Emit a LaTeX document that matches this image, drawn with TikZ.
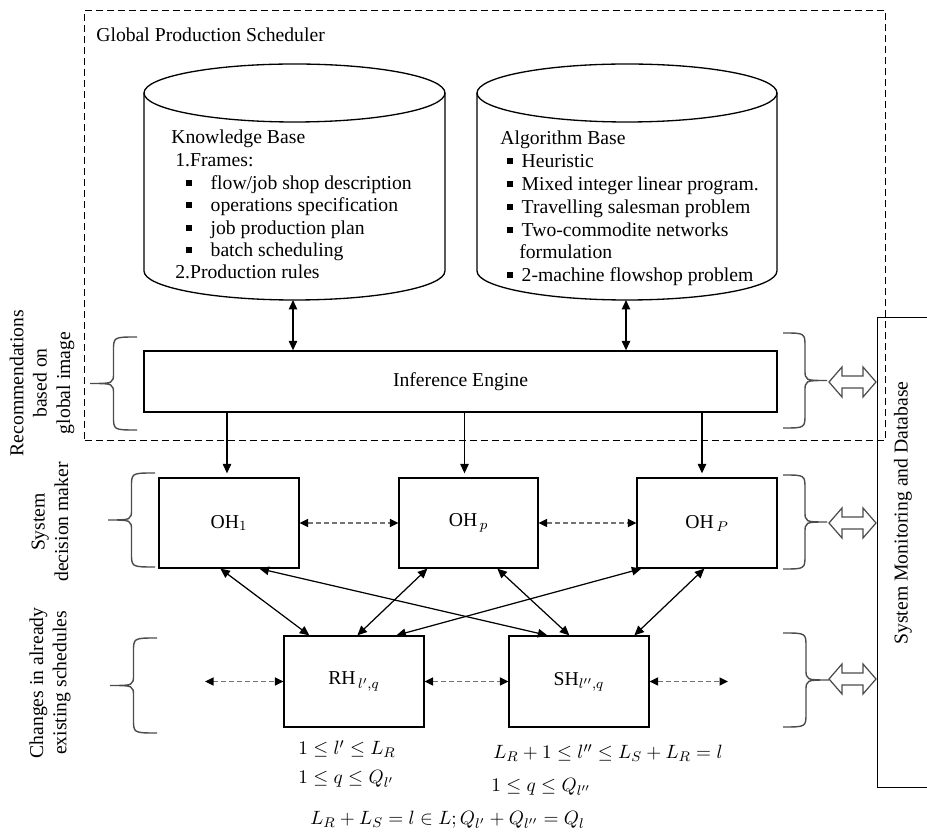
\documentclass[tikz,border=0pt]{standalone}
\usepackage{fontspec}
\setmainfont{Liberation Serif}
\usetikzlibrary{arrows.meta,calc}
\newdimen\pxu \pxu=0.02cm
\newcommand\sqb{\rule[0.22em]{0.27em}{0.27em}}
% curly brace: tip x, end x, top y, bottom y
\newcommand\curlybrace[4]{%
  \pgfmathsetmacro\bsp{(#1+#2)/2}%
  \pgfmathsetmacro\bmid{(#3+#4)/2}%
  \draw[curly] (#2,#3) .. controls (\bsp,#3) .. (\bsp,#3-14)
    -- (\bsp,\bmid+11) .. controls (\bsp,\bmid) .. (#1,\bmid)
    .. controls (\bsp,\bmid) .. (\bsp,\bmid-11)
    -- (\bsp,#4+14) .. controls (\bsp,#4) .. (#2,#4);}
% hollow two-way arrow from a brace tip to the monitoring box
\newcommand\hollowarrow[1]{%
  \draw[hollow] (829,#1) -- ++(13,15) -- ++(0,-9) -- ++(21,0) -- ++(0,9)
    -- ++(13,-15) -- ++(-13,-15) -- ++(0,9) -- ++(-21,0) -- ++(0,-9) -- cycle;}
\begin{document}
\begin{tikzpicture}[x=0.02cm,y=0.02cm,
  font=\fontsize{11.2}{13}\selectfont,
  box/.style={draw, line width=0.75pt, inner sep=0pt},
  dbox/.style={draw, line width=0.7pt, dash pattern=on 7\pxu off 4\pxu, inner sep=0pt},
  cyl/.style={draw, line width=0.75pt},
  tri/.tip={Triangle[length=0.19cm,width=0.17cm]},
  arr/.style={line width=0.7pt, tri-tri},
  down/.style={line width=0.7pt, -tri},
  dasharr/.style={draw=black!55, line width=0.8pt, dash pattern=on 5\pxu off 3\pxu,
    {Triangle[length=0.17cm,width=0.16cm,color=black]}-{Triangle[length=0.17cm,width=0.16cm,color=black]}},
  curly/.style={draw=black!70, line width=0.8pt},
  hollow/.style={draw=black!70, fill=white, line width=0.7pt, line join=miter},
  lbl/.style={anchor=base west, inner sep=0pt},
  side/.style={rotate=90, align=center, inner sep=0pt, font=\fontsize{11.2}{13.3}\selectfont}]
\useasboundingbox (0,0) rectangle (927,-837);

% global scheduler frame
\node[dbox, minimum width=16.02cm, minimum height=8.6cm, anchor=north west] (gps) at (84,-10) {};
\node[lbl] (gpst) at (96,-42) {Global Production Scheduler};

% knowledge base cylinder
\draw[cyl] (144,-93) -- (144,-271) arc[start angle=180, end angle=360, x radius=3.01cm, y radius=0.58cm] -- (445,-93);
\draw[cyl] (294.5,-93) ellipse [x radius=3.01cm, y radius=0.58cm];
\coordinate (kbb) at (293,-300);
\node[lbl] (kb1) at (171,-144) {Knowledge Base};
\node[lbl] (kb2) at (175,-167) {1.Frames:};
\node[lbl] (kb3) at (186,-190) {\sqb\hspace*{19\pxu}flow/job shop description};
\node[lbl] (kb4) at (186,-212) {\sqb\hspace*{19\pxu}operations specification};
\node[lbl] (kb5) at (186,-235) {\sqb\hspace*{19\pxu}job production plan};
\node[lbl] (kb6) at (186,-257) {\sqb\hspace*{19\pxu}batch scheduling};
\node[lbl] (kb7) at (175,-279) {2.Production rules};

% algorithm base cylinder
\draw[cyl] (477,-93) -- (477,-271) arc[start angle=180, end angle=360, x radius=3.0cm, y radius=0.58cm] -- (777,-93);
\draw[cyl] (627,-93) ellipse [x radius=3.0cm, y radius=0.58cm];
\coordinate (abb) at (626,-300);
\node[lbl] (ab1) at (500,-145) {Algorithm Base};
\node[lbl] (ab2) at (507,-168) {\sqb\hspace*{9\pxu}Heuristic};
\node[lbl] (ab3) at (507,-191) {\sqb\hspace*{9\pxu}Mixed integer linear program.};
\node[lbl] (ab4) at (507,-214) {\sqb\hspace*{9\pxu}Travelling salesman problem};
\node[lbl] (ab5) at (507,-237) {\sqb\hspace*{9\pxu}Two-commodite networks};
\node[lbl] (ab6) at (519,-259) {formulation};
\node[lbl] (ab7) at (507,-282) {\sqb\hspace*{9\pxu}2-machine flowshop problem};

% inference engine
\node[box, minimum width=12.66cm, minimum height=1.22cm] (ie) at (460.5,-381.5) {Inference Engine};
\draw[arr] (kbb) -- (kbb |- ie.north);
\draw[arr] (abb) -- (abb |- ie.north);

% operation handlers
\node[box, minimum width=2.8cm, minimum height=1.8cm] (oh1) at (229,-523) {OH$_1$};
\node[box, minimum width=2.78cm, minimum height=1.8cm] (ohp) at (468.5,-523) {OH$_{\,p}$};
\node[box, minimum width=2.8cm, minimum height=1.8cm] (ohP) at (707,-523) {OH$_{\,P}$};
\draw[down] ([xshift=-2\pxu]ie.south -| oh1) -- ([xshift=-2\pxu,yshift=4\pxu]oh1.north);
\draw[down] ([xshift=-4\pxu]ie.south -| ohp) -- ([xshift=-4\pxu,yshift=4\pxu]ohp.north);
\draw[down] ([xshift=-5\pxu]ie.south -| ohP) -- ([xshift=-5\pxu,yshift=4\pxu]ohP.north);
\draw[dasharr] (oh1.east) -- (ohp.west);
\draw[dasharr] (ohp.east) -- (ohP.west);

% resource and schedule handlers
\node[box, minimum width=2.8cm, minimum height=1.82cm] (rh) at (354,-681.5) {RH$_{\,l',q}$};
\node[box, minimum width=2.8cm, minimum height=1.82cm] (sh) at (579,-681.5) {SH$_{l'',q}$};
\coordinate (rhl) at (205,-681.5);
\coordinate (shr) at (728,-681.5);
\draw[dasharr] (rhl) -- (rh.west);
\draw[dasharr] (rh.east) -- (sh.west);
\draw[dasharr] (sh.east) -- (shr);

% links between the two levels
\draw[arr] ($(oh1.south west)+(62,0)$) -- ($(rh.north west)+(26,0)$);
\draw[arr] ($(oh1.south west)+(101,0)$) -- ($(sh.north west)+(39,0)$);
\draw[arr] ($(ohp.south west)+(29,0)$) -- ($(rh.north west)+(74,0)$);
\draw[arr] ($(ohp.south west)+(99,0)$) -- ($(sh.north west)+(61,0)$);
\draw[arr] ($(ohP.south west)+(5,0)$) -- ($(rh.north west)+(113,0)$);
\draw[arr] ($(ohP.south west)+(68,0)$) -- ($(sh.north west)+(126,0)$);

% index ranges
\node[lbl] (c1) at (298,-755) {$1\le l'\le L_R$};
\node[lbl] (c2) at (298,-784) {$1\le q\le Q_{l'}$};
\node[lbl] (c3) at (493,-759) {$L_R+1\le l''\le L_S+L_R=l$};
\node[lbl] (c4) at (491,-792) {$1\le q\le Q_{l''}$};
\node[lbl] (c5) at (310,-825) {$L_R+L_S=l\in L;Q_{l'}+Q_{l''}=Q_l$};

% level labels and braces on the left
\node[side] (rec) at (42,-383) {Recommendations\\based on\\global image};
\node[side] (sdm) at (50,-522) {System\\decision maker};
\node[side] (chg) at (50,-683) {Changes in already\\existing schedules};
\curlybrace{90}{137}{-337}{-430}
\curlybrace{108}{155}{-473}{-567}
\curlybrace{110}{157}{-638}{-733}

% monitoring box, braces and links on the right
\node[box, minimum width=1.4cm, minimum height=9.4cm, anchor=north west] (sm) at (877,-317) {};
\node[side] (smt) at (903,-513) {System Monitoring and Database};
\curlybrace{827}{783}{-333}{-428}
\curlybrace{827}{783}{-475}{-569}
\curlybrace{829}{783}{-633}{-727}
\hollowarrow{-382}
\hollowarrow{-523}
\hollowarrow{-679}
\end{tikzpicture}
\end{document}
